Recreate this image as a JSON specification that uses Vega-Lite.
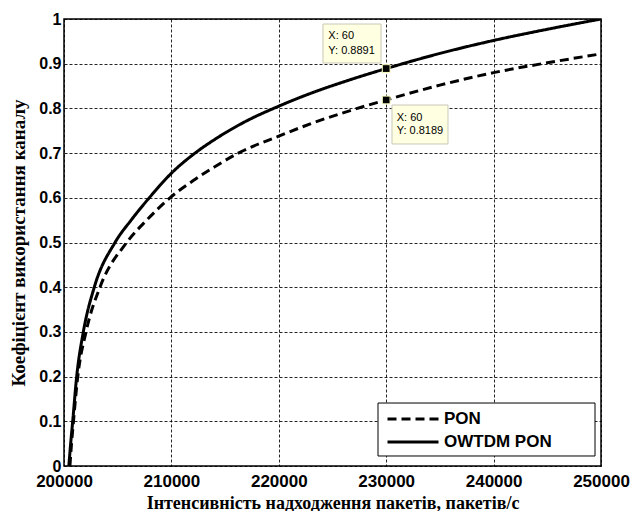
{
  "$schema": "https://vega.github.io/schema/vega-lite/v6.json",
  "width": 537,
  "height": 447,
  "autosize": {"type": "none"},
  "padding": {"left": 64, "top": 19, "right": 31, "bottom": 45},
  "background": "white",
  "config": {
    "view": {"stroke": "black", "strokeWidth": 1.5},
    "axis": {
      "domain": false,
      "ticks": false,
      "grid": true,
      "gridColor": "black",
      "gridDash": [3, 2],
      "gridWidth": 1,
      "gridOpacity": 0.85,
      "labelFont": "Liberation Sans",
      "labelFontWeight": "bold",
      "labelFontSize": 17,
      "labelColor": "black",
      "labelOverlap": false,
      "labelFlush": false,
      "titleFont": "Liberation Serif",
      "titleFontWeight": "bold",
      "titleFontSize": 19,
      "titleColor": "black"
    }
  },
  "datasets": {
    "curves": [
      {"series": "OWTDM PON", "x": 200450, "y": 0},
      {"series": "OWTDM PON", "x": 200620, "y": 0.05},
      {"series": "OWTDM PON", "x": 200810, "y": 0.1},
      {"series": "OWTDM PON", "x": 201180, "y": 0.2},
      {"series": "OWTDM PON", "x": 201800, "y": 0.3},
      {"series": "OWTDM PON", "x": 202820, "y": 0.4},
      {"series": "OWTDM PON", "x": 204750, "y": 0.5},
      {"series": "OWTDM PON", "x": 206250, "y": 0.55},
      {"series": "OWTDM PON", "x": 207940, "y": 0.6},
      {"series": "OWTDM PON", "x": 210000, "y": 0.655},
      {"series": "OWTDM PON", "x": 212200, "y": 0.7},
      {"series": "OWTDM PON", "x": 214000, "y": 0.73},
      {"series": "OWTDM PON", "x": 217000, "y": 0.772},
      {"series": "OWTDM PON", "x": 220000, "y": 0.805},
      {"series": "OWTDM PON", "x": 223000, "y": 0.834},
      {"series": "OWTDM PON", "x": 226500, "y": 0.863},
      {"series": "OWTDM PON", "x": 230000, "y": 0.8891},
      {"series": "OWTDM PON", "x": 235000, "y": 0.923},
      {"series": "OWTDM PON", "x": 240000, "y": 0.952},
      {"series": "OWTDM PON", "x": 245000, "y": 0.977},
      {"series": "OWTDM PON", "x": 250000, "y": 1.0},
      {"series": "PON", "x": 200550, "y": 0},
      {"series": "PON", "x": 200700, "y": 0.05},
      {"series": "PON", "x": 200880, "y": 0.1},
      {"series": "PON", "x": 201280, "y": 0.2},
      {"series": "PON", "x": 202050, "y": 0.3},
      {"series": "PON", "x": 203350, "y": 0.4},
      {"series": "PON", "x": 205840, "y": 0.5},
      {"series": "PON", "x": 207700, "y": 0.55},
      {"series": "PON", "x": 209870, "y": 0.6},
      {"series": "PON", "x": 212000, "y": 0.638},
      {"series": "PON", "x": 214000, "y": 0.669},
      {"series": "PON", "x": 216230, "y": 0.7},
      {"series": "PON", "x": 220000, "y": 0.738},
      {"series": "PON", "x": 223000, "y": 0.766},
      {"series": "PON", "x": 226500, "y": 0.794},
      {"series": "PON", "x": 230000, "y": 0.8189},
      {"series": "PON", "x": 235000, "y": 0.852},
      {"series": "PON", "x": 240000, "y": 0.88},
      {"series": "PON", "x": 245000, "y": 0.902},
      {"series": "PON", "x": 250000, "y": 0.922}
    ],
    "legendbox": [
      {"x0": 229237, "x1": 249442, "y0": 0.1409, "y1": 0.0224}
    ],
    "tipboxes": [
      {"x0": 224115, "x1": 229516, "y0": 0.9888, "y1": 0.9016},
      {"x0": 230540, "x1": 235754, "y0": 0.8076, "y1": 0.7204}
    ],
    "tippoints": [
      {"x": 230000, "y": 0.8891},
      {"x": 230000, "y": 0.8189}
    ],
    "tiptexts": [
      {"x": 224610, "y": 0.9626, "label": "X: 60"},
      {"x": 224610, "y": 0.9284, "label": "Y: 0.8891"},
      {"x": 230977, "y": 0.779, "label": "X: 60"},
      {"x": 230977, "y": 0.7494, "label": "Y: 0.8189"}
    ]
  },
  "layer": [
    {
      "data": {"name": "legendbox"},
      "mark": {"type": "rect", "fill": "white", "stroke": "black", "strokeWidth": 1},
      "encoding": {
        "x": {"field": "x0", "type": "quantitative"},
        "x2": {"field": "x1"},
        "y": {"field": "y0", "type": "quantitative"},
        "y2": {"field": "y1"}
      }
    },
    {
      "data": {"name": "curves"},
      "mark": {"type": "line", "color": "black", "strokeWidth": 3, "interpolate": "monotone", "clip": true},
      "encoding": {
        "x": {
          "field": "x", "type": "quantitative",
          "scale": {"domain": [200000, 250000], "nice": false, "zero": false},
          "axis": {
            "values": [200000, 210000, 220000, 230000, 240000, 250000],
            "format": "d",
            "labelBaseline": "alphabetic",
            "labelPadding": 20,
            "title": "Інтенсивність надходження пакетів, пакетів/с",
            "titleFontSize": 18,
            "titleBaseline": "alphabetic",
            "titleY": 42
          }
        },
        "y": {
          "field": "y", "type": "quantitative",
          "scale": {"domain": [0, 1], "nice": false, "zero": false},
          "axis": {
            "values": [0, 0.1, 0.2, 0.3, 0.4, 0.5, 0.6, 0.7, 0.8, 0.9, 1],
            "labelExpr": "datum.value == 0 ? '0' : datum.value == 1 ? '1' : format(datum.value, '.1f')",
            "labelPadding": 3,
            "labelFontSize": 16,
            "title": "Коефіцієнт використання каналу",
            "titleAngle": -90,
            "titleBaseline": "middle",
            "titleAlign": "center",
            "titleX": -46,
            "titleY": 223.5
          }
        },
        "detail": {"field": "series"},
        "strokeDash": {
          "field": "series", "type": "nominal",
          "scale": {"domain": ["PON", "OWTDM PON"], "range": [[9, 5], [1, 0]]},
          "legend": {
            "orient": "none",
            "legendX": 314,
            "legendY": 384,
            "title": null,
            "strokeColor": null,
            "fillColor": null,
            "padding": 6,
            "rowPadding": 5,
            "symbolType": "M-3,0H3",
            "symbolSize": 289,
            "symbolStrokeWidth": 3,
            "symbolStrokeColor": "black",
            "symbolOffset": 19,
            "labelFont": "Liberation Sans",
            "labelFontWeight": "bold",
            "labelFontSize": 17,
            "labelColor": "black",
            "labelOffset": 21
          }
        }
      }
    },
    {
      "data": {"name": "tipboxes"},
      "mark": {"type": "rect", "fill": "#ffffe1", "stroke": "#c8c8b8", "strokeWidth": 1},
      "encoding": {
        "x": {"field": "x0", "type": "quantitative"},
        "x2": {"field": "x1"},
        "y": {"field": "y0", "type": "quantitative"},
        "y2": {"field": "y1"}
      }
    },
    {
      "data": {"name": "tippoints"},
      "mark": {"type": "point", "shape": "square", "size": 60, "filled": true, "fill": "black", "stroke": "#ffffc0", "strokeWidth": 1, "opacity": 1},
      "encoding": {
        "x": {"field": "x", "type": "quantitative"},
        "y": {"field": "y", "type": "quantitative"}
      }
    },
    {
      "data": {"name": "tiptexts"},
      "mark": {"type": "text", "align": "left", "baseline": "middle", "font": "Liberation Sans", "fontSize": 11, "color": "black"},
      "encoding": {
        "x": {"field": "x", "type": "quantitative"},
        "y": {"field": "y", "type": "quantitative"},
        "text": {"field": "label"}
      }
    }
  ]
}
